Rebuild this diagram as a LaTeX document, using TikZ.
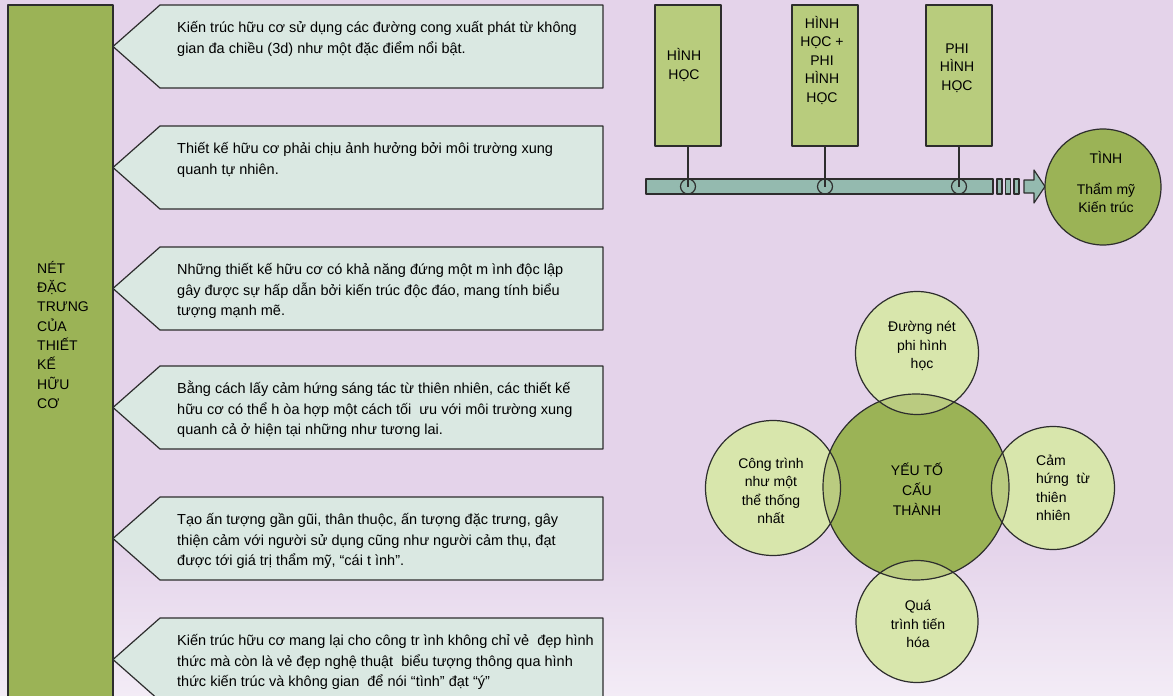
\documentclass[tikz,border=0pt]{standalone}
\usepackage{fontspec}
\setmainfont{Liberation Sans}
\definecolor{bgtop}{RGB}{228,211,234}
\definecolor{bgbot}{RGB}{243,236,246}
\definecolor{leafdark}{RGB}{155,179,86}
\definecolor{leafmid}{RGB}{184,204,125}
\definecolor{leafpale}{RGB}{216,230,172}
\definecolor{lens}{RGB}{186,203,128}
\definecolor{mint}{RGB}{218,232,226}
\definecolor{slate}{RGB}{148,186,175}
\definecolor{ink}{RGB}{45,45,45}
\begin{document}
\begin{tikzpicture}[x=1pt, y=-1pt, line join=round,
	outline/.style={draw=ink, line width=1.2pt},
	callout/.style={outline, fill=mint},
	calltext/.style={anchor=north west, inner sep=0pt, align=left, font=\fontsize{14.5}{20.5}\selectfont},
	geobox/.style={outline, fill=leafmid, minimum width=66, minimum height=141, inner sep=0pt},
	boxtext/.style={align=center, inner sep=0pt, font=\fontsize{14}{18.5}\selectfont},
	ring/.style={circle, outline, minimum size=15, inner sep=0pt},
	gapbox/.style={outline, fill=slate, minimum width=5, minimum height=15, inner sep=0pt},
	disc/.style={circle, inner sep=0pt},
	disctext/.style={align=center, inner sep=0pt, font=\fontsize{14}{18.5}\selectfont}]
	\useasboundingbox (0,0) rectangle (1173,696);
	% nen
	\fill[bgtop] (0,0) rectangle (1173,696);
	\shade[top color=bgtop, bottom color=bgbot] (0,540) rectangle (1173,696);
	
	% cot ben trai
	\fill[leafdark] (8,5) rectangle (113,705);
	\draw[outline] (8,705) -- (8,5) -- (113,5) -- (113,705);
	\node[anchor=north west, align=left, inner sep=0pt, font=\fontsize{14}{19.3}\selectfont] (title) at (37,259.5)
		{\strut NÉT\\ĐẶC\\TRƯNG\\CỦA\\THIẾT\\KẾ\\HỮU\\CƠ};
	
	% cac o chu thich
	\foreach \i/\yt/\txt in {
		1/5/{Kiến trúc hữu cơ sử dụng các đường cong xuất phát từ không\\gian đa chiều (3d) như một đặc điểm nổi bật.},
		2/126/{Thiết kế hữu cơ phải chịu ảnh hưởng bởi môi trường xung\\quanh tự nhiên.},
		3/247/{Những thiết kế hữu cơ có khả năng đứng một m ình độc lập\\gây được sự hấp dẫn bởi kiến trúc độc đáo, mang tính biểu\\tượng mạnh mẽ.},
		4/366/{Bằng cách lấy cảm hứng sáng tác từ thiên nhiên, các thiết kế\\hữu cơ có thể h òa hợp một cách tối \ ưu với môi trường xung\\quanh cả ở hiện tại những như tương lai.},
		5/497/{Tạo ấn tượng gần gũi, thân thuộc, ấn tượng đặc trưng, gây\\thiện cảm với người sử dụng cũng như người cảm thụ, đạt\\được tới giá trị thẩm mỹ, “cái t ình”.},
		6/618/{Kiến trúc hữu cơ mang lại cho công tr ình không chỉ vẻ \ đẹp hình\\thức mà còn là vẻ đẹp nghệ thuật \ biểu tượng thông qua hình\\thức kiến trúc và không gian \ để nói “tình” đạt “ý”}}
	{
		\draw[callout] (113,\yt+41.5) -- (160,\yt) -- (603,\yt) -- (603,\yt+83) -- (160,\yt+83) -- cycle;
		\node[calltext] (c\i) at (177,\yt+13) {\strut\txt};
	}
	
	% truc phat trien
	\node[geobox] (g1) at (688,75.5) {};
	\node[geobox] (g2) at (825,75.5) {};
	\node[geobox] (g3) at (959,75.5) {};
	\node[boxtext] (t1) at (684,65) {HÌNH\\HỌC};
	\node[boxtext] (t2) at (822,60) {HÌNH\\HỌC +\\PHI\\HÌNH\\HỌC};
	\node[boxtext] (t3) at (957,68) {PHI\\HÌNH\\HỌC};
	\node[outline, fill=slate, minimum width=347, minimum height=15, inner sep=0pt] (bar) at (819.5,186.5) {};
	\foreach \k in {1,2,3} {
		\node[ring] (r\k) at (g\k.south |- bar.center) {};
		\draw[outline] (g\k.south) -- (r\k.center);
	}
	\foreach \k/\xx in {1/999.5, 2/1008, 3/1016.5}
		\node[gapbox] (s\k) at (\xx,186.5) {};
	\draw[outline, fill=slate] (1024,180) -- (1034,180) -- (1034,170) -- (1045,186.5) -- (1034,203) -- (1034,193) -- (1024,193) -- cycle;
	\node[disc, outline, fill=leafdark, minimum size=116] (tinh) at (1103,187) {};
	\node[disctext] (tinh1) at (1106,157) {TÌNH};
	\node[disctext] (tinh2) at (1106,198) {Thẩm mỹ\\Kiến trúc};
	
	% cac yeu to cau thanh
	\foreach \n/\x/\y/\r in {up/917/353/61.5, lt/773/488/67.5, rt/1053/488/61.5, dn/917/621.5/61}
		\node[disc, fill=leafpale, minimum size=2*\r] (\n) at (\x,\y) {};
	\node[disc, fill=leafdark, minimum size=186] (core) at (916,487) {};
	\begin{scope}
		\clip (core.center) circle[radius=93pt];
		\foreach \n/\r in {up/61.5, lt/67.5, rt/61.5, dn/61}
			\fill[lens] (\n.center) circle[radius=\r pt];
	\end{scope}
	\draw[outline] (core.center) circle[radius=93pt];
	\foreach \n/\r in {up/61.5, lt/67.5, rt/61.5, dn/61}
		\draw[outline] (\n.center) circle[radius=\r pt];
	\node[disctext, font=\fontsize{14}{20}\selectfont] (coretext) at (917,489) {YẾU TỐ\\CẤU\\THÀNH};
	\node[disctext] (uptext) at (922,346) {Đường nét\\phi hình\\học};
	\node[disctext] (lttext) at (771,491) {Công trình\\như một\\thể thống\\nhất};
	\node[disctext, align=left, anchor=west] (rttext) at (1036,488) {Cảm\\hứng \ từ\\thiên\\nhiên};
	\node[disctext] (dntext) at (918,624) {Quá\\trình tiến\\hóa};
\end{tikzpicture}
\end{document}
